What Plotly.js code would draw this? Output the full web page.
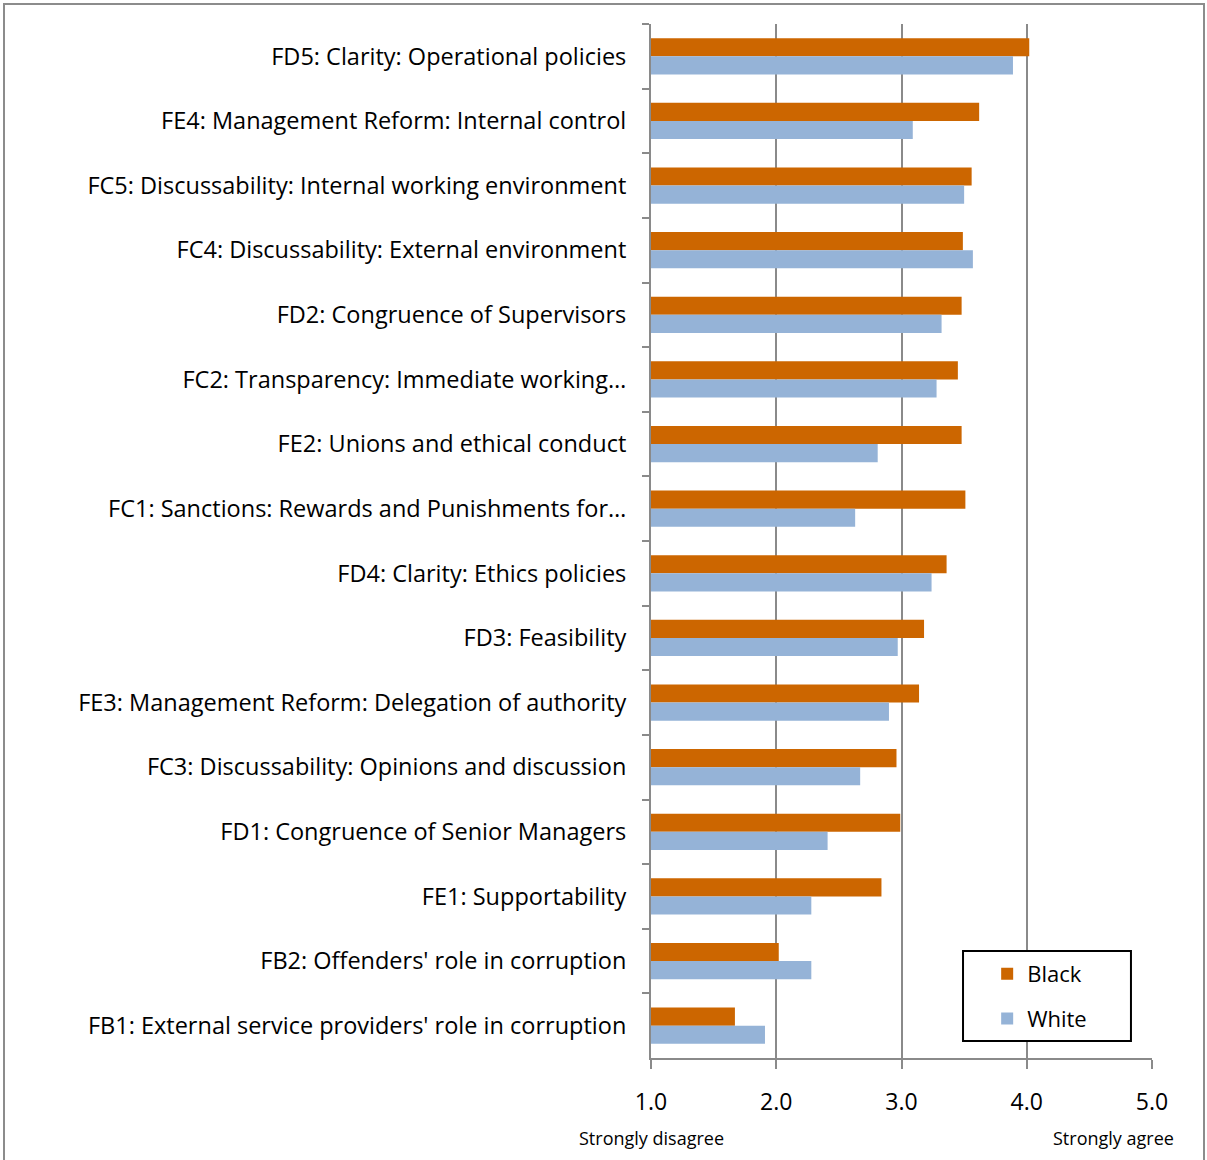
<!DOCTYPE html>
<html>
<head>
<meta charset="utf-8">
<script src="https://cdn.plot.ly/plotly-3.0.1.min.js"></script>
<style>
  html, body { margin: 0; padding: 0; background: #fff; }
  #frame { position: absolute; left: 3px; top: 3px; width: 1202px; height: 1170px; border: 2px solid #8c8c8c; box-sizing: border-box; }
  #chart { position: absolute; left: 0; top: 0; width: 1207px; height: 1160px; }
</style>
</head>
<body>
<div id="frame"></div>
<div id="chart"></div>
<script>
const categories = [
  "FD5: Clarity: Operational policies",
  "FE4: Management Reform: Internal control",
  "FC5: Discussability: Internal working environment",
  "FC4: Discussability: External environment",
  "FD2: Congruence of Supervisors",
  "FC2: Transparency: Immediate working…",
  "FE2: Unions and ethical conduct",
  "FC1: Sanctions: Rewards and Punishments for…",
  "FD4: Clarity: Ethics policies",
  "FD3: Feasibility",
  "FE3: Management Reform: Delegation of authority",
  "FC3: Discussability: Opinions and discussion",
  "FD1: Congruence of Senior Managers",
  "FE1: Supportability",
  "FB2: Offenders' role in corruption",
  "FB1: External service providers' role in corruption"
];
const blackValues = [4.02, 3.62, 3.56, 3.49, 3.48, 3.45, 3.48, 3.51, 3.36, 3.18, 3.14, 2.96, 2.99, 2.84, 2.02, 1.67];
const whiteValues = [3.89, 3.09, 3.50, 3.57, 3.32, 3.28, 2.81, 2.63, 3.24, 2.97, 2.90, 2.67, 2.41, 2.28, 2.28, 1.91];
const xTickValues = [1, 2, 3, 4, 5];
const xTickLabels = ["1.0", "2.0", "3.0", "4.0", "5.0"];
const scaleLabels = [{text: "Strongly disagree", x: 1.0}, {text: "Strongly agree", x: 4.69}];

const FONT = "'Open Sans', 'Noto Sans', sans-serif";
const grid = "#8a8a8a";

const traces = [
  {type: "bar", orientation: "h", name: "Black", y: categories, x: blackValues,
   marker: {color: "#CC6600"}, legendgroup: "b", hoverinfo: "x+y"},
  {type: "bar", orientation: "h", name: "White", y: categories, x: whiteValues,
   marker: {color: "#95B3D7"}, legendgroup: "w", hoverinfo: "x+y"}
];

const layout = {
  width: 1207, height: 1160,
  margin: {l: 651, r: 55, t: 24, b: 102},
  paper_bgcolor: "rgba(0,0,0,0)",
  plot_bgcolor: "#fff",
  font: {family: FONT, color: "#000", size: 22},
  barmode: "group",
  bargap: 0.44,
  bargroupgap: 0,
  showlegend: true,
  legend: {
    x: 0.671, y: 0.1015, xanchor: "left", yanchor: "top",
    bgcolor: "rgba(0,0,0,0)", borderwidth: 0,
    font: {family: FONT, size: 22, color: "#000"},
    traceorder: "grouped", tracegroupgap: 13,
    itemwidth: 30
  },
  shapes: [{
    type: "rect", xref: "paper", yref: "paper",
    x0: 0.6228, x1: 0.958, y0: 0.0164, y1: 0.1035,
    line: {color: "#000", width: 2}, fillcolor: "#fff", layer: "above"
  }],
  xaxis: {
    range: [1, 5], tickvals: xTickValues, ticktext: xTickLabels,
    showgrid: true, gridcolor: grid, gridwidth: 2,
    showline: true, linecolor: grid, linewidth: 2,
    ticks: "outside", ticklen: 9, tickwidth: 2, tickcolor: grid,
    ticklabelstandoff: 13,
    tickfont: {family: FONT, size: 23, color: "#000"},
    zeroline: false, fixedrange: true
  },
  yaxis: {
    type: "category", autorange: "reversed",
    showline: true, linecolor: grid, linewidth: 2,
    ticks: "outside", ticklen: 7, tickwidth: 2, tickcolor: grid,
    tickson: "boundaries",
    ticklabelstandoff: 18,
    showgrid: false,
    tickfont: {family: FONT, size: 23.5, color: "#000"},
    fixedrange: true
  },
  annotations: scaleLabels.map(s => ({
    text: s.text, x: s.x, xref: "x", y: -0.077, yref: "paper",
    xanchor: "center", yanchor: "middle", showarrow: false,
    font: {family: FONT, size: 18, color: "#000"}
  }))
};

Plotly.newPlot("chart", traces, layout, {staticPlot: true});
</script>
</body>
</html>
